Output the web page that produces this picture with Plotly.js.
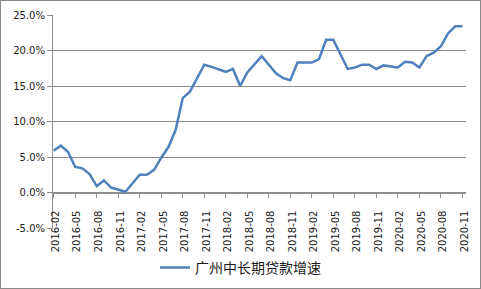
<!DOCTYPE html>
<html>
<head>
<meta charset="utf-8">
<script src="https://cdn.plot.ly/plotly-3.0.1.min.js"></script>
<style>
html,body{margin:0;padding:0;background:#fff;}
#chart{width:479px;height:287px;border:1px solid #8a8a8a;}
</style>
</head>
<body>
<div id="chart"></div>
<script>
const months = [
"2016-02","2016-03","2016-04","2016-05","2016-06","2016-07","2016-08","2016-09","2016-10","2016-11","2016-12",
"2017-01","2017-02","2017-03","2017-04","2017-05","2017-06","2017-07","2017-08","2017-09","2017-10","2017-11","2017-12",
"2018-01","2018-02","2018-03","2018-04","2018-05","2018-06","2018-07","2018-08","2018-09","2018-10","2018-11","2018-12",
"2019-01","2019-02","2019-03","2019-04","2019-05","2019-06","2019-07","2019-08","2019-09","2019-10","2019-11","2019-12",
"2020-01","2020-02","2020-03","2020-04","2020-05","2020-06","2020-07","2020-08","2020-09","2020-10","2020-11"
];
const growth = [
5.9,6.6,5.7,3.6,3.4,2.6,0.9,1.7,0.7,0.4,0.1,
1.3,2.5,2.5,3.2,4.9,6.4,8.8,13.3,14.2,16.1,18.0,17.7,
17.3,17.0,17.4,15.0,16.9,18.1,19.2,18.0,16.8,16.1,15.8,18.3,
18.3,18.3,18.8,21.5,21.5,19.5,17.4,17.6,18.0,18.0,17.4,17.9,
17.8,17.6,18.4,18.3,17.6,19.2,19.7,20.6,22.4,23.4,23.4
];
const seriesName = "广州中长期贷款增速";
const yTickVals = [-5,0,5,10,15,20,25];
const yTickText = ["-5.0%","0.0%","5.0%","10.0%","15.0%","20.0%","25.0%"];
const xTickVals = months.filter((m,i)=>i%3===0);

const grid = "#8c8c8c";
const fontFam = "'DejaVu Sans','Noto Sans CJK SC',sans-serif";

Plotly.newPlot("chart",[{
  x: months, y: growth, type:"scatter", mode:"lines", name: seriesName,
  line:{color:"#4F81BD", width:2.5}
}],{
  width:479, height:287,
  margin:{l:52,r:14,t:14,b:60},
  paper_bgcolor:"#fff", plot_bgcolor:"#fff",
  font:{family:fontFam, size:10, color:"#1a1a1a"},
  showlegend:true,
  legend:{orientation:"h", x:0.5, xanchor:"center", xref:"container", y:0.07, yref:"container", yanchor:"middle",
    font:{family:"'Noto Sans CJK SC',sans-serif", size:14, color:"#1a1a1a"}},
  xaxis:{type:"category", range:[-0.1,57.5], tickvals:xTickVals, ticktext:xTickVals,
    tickangle:-90, ticks:"outside", ticklen:4, tickcolor:grid, showgrid:false, ticklabelstandoff:9, ticklabelshift:2,
    showline:true, linecolor:grid, linewidth:1, anchor:"free", position:1/6, zeroline:false,
    tickfont:{family:fontFam,size:10}},
  yaxis:{range:[-5,25], tickvals:yTickVals, ticktext:yTickText, showgrid:true, gridcolor:grid, gridwidth:1,
    zeroline:false, showline:true, linecolor:grid, ticks:"outside", ticklen:5, tickcolor:grid,
    tickfont:{family:fontFam,size:10}}
},{displayModeBar:false, staticPlot:true});
</script>
</body>
</html>
